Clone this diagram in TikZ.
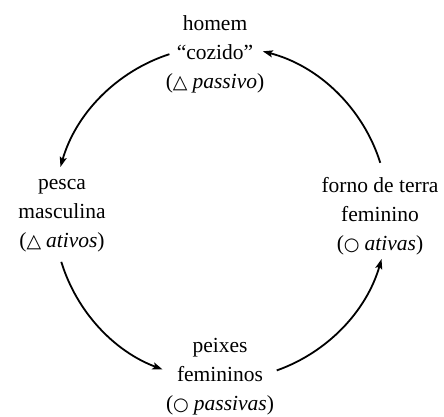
\documentclass[tikz,border=0pt]{standalone}
\usepackage{fontspec}
\setmainfont{Liberation Serif}
\newfontfamily\symfont{DejaVu Sans}
\usetikzlibrary{arrows.meta,calc}
\newcommand{\mytri}{{\symfont\fontsize{19}{19}\selectfont △}}
\newcommand{\mycirc}{{\symfont\fontsize{18}{18}\selectfont ○}}
\begin{document}
\begin{tikzpicture}[x=1pt,y=1pt,
  lbl/.style={align=center,inner sep=0pt,font=\fontsize{21.5}{29}\selectfont},
  cyc/.style={line width=1.8pt,-{Stealth[length=10pt,width=7pt,inset=2pt]}}]
\useasboundingbox (0,0) rectangle (444,417);
\coordinate (C) at (221,204);
\node[lbl] (top) at (215,363) {homem\\“cozido”\\(\mytri\hspace{5pt}\textit{passivo})};
\node[lbl] (left) at (62,201) {pesca\\masculina\\(\mytri\hspace{5pt}\textit{ativos})};
\node[lbl] (right) at (380,201) {forno de terra\\feminino\\(\mycirc\hspace{5pt}\textit{ativas})};
\node[lbl] (bottom) at (220,40) {peixes\\femininos\\(\mycirc\hspace{5pt}\textit{passivas})};
\coordinate (s1) at ($(C)+(17.5:167)$);
\coordinate (s2) at ($(C)+(108:167)$);
\coordinate (s3) at ($(C)+(197:167)$);
\coordinate (s4) at ($(C)+(289.5:167)$);
\draw[cyc] (s1) arc[start angle=17.5, end angle=75.5, radius=167];
\draw[cyc] (s2) arc[start angle=108, end angle=164, radius=167];
\draw[cyc] (s3) arc[start angle=197, end angle=249.5, radius=167];
\draw[cyc] (s4) arc[start angle=289.5, end angle=344, radius=167];
\end{tikzpicture}
\end{document}
